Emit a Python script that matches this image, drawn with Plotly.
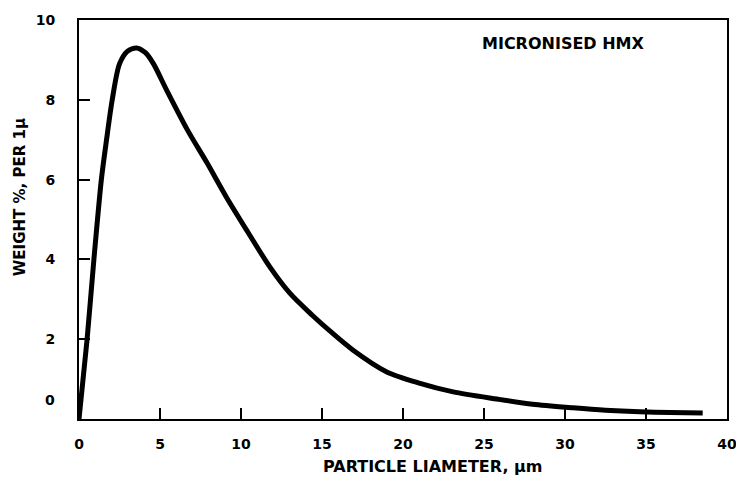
import plotly.graph_objects as go

diameter_um = [0, 0.5, 0.92, 1.38, 1.7, 2.05, 2.5, 3.0, 3.55, 4.1, 4.6, 5.4, 6.7, 7.9, 9.1,
               10.4, 11.8, 13.0, 14.4, 15.5, 16.9, 19.0, 21.0, 23.1, 25.8, 28.0, 30.5, 32.5,
               34.6, 36.5, 38.5]
weight_pct = [0, 2.0, 4.0, 6.0, 7.0, 8.0, 8.9, 9.22, 9.3, 9.18, 8.9, 8.25, 7.24, 6.42, 5.56,
              4.7, 3.8, 3.16, 2.6, 2.2, 1.73, 1.18, 0.9, 0.68, 0.5, 0.37, 0.28, 0.22,
              0.18, 0.16, 0.15]

x_ticks = [0, 5, 10, 15, 20, 25, 30, 35, 40]
y_ticks = [2, 4, 6, 8, 10]

FONT = "DejaVu Sans"
fig = go.Figure()
fig.add_trace(go.Scatter(x=diameter_um, y=weight_pct, mode="lines",
                         line=dict(color="black", width=5, shape="spline", smoothing=0.8),
                         hoverinfo="skip", showlegend=False))

fig.update_layout(
    width=736, height=483,
    margin=dict(l=79, r=9, t=20, b=64),
    paper_bgcolor="white", plot_bgcolor="white",
    font=dict(family=FONT, size=14, color="black", weight="bold"),
    xaxis=dict(range=[0, 40], tickvals=x_ticks, ticks="inside", ticklen=11, tickwidth=2,
               tickcolor="black", showline=True, linecolor="black", linewidth=2, mirror=True,
               showgrid=False, zeroline=False, ticklabelstandoff=11, automargin=False,
               ticklabeloverflow="allow",
               tickfont=dict(family=FONT, size=14, weight="bold")),
    yaxis=dict(range=[0, 10], tickvals=y_ticks, ticks="inside", ticklen=11, tickwidth=2,
               tickcolor="black", showline=True, linecolor="black", linewidth=2, mirror=True,
               showgrid=False, zeroline=False, ticklabelstandoff=19, automargin=False,
               ticklabeloverflow="allow",
               tickfont=dict(family=FONT, size=14, weight="bold")),
    annotations=[
        dict(text="0", xref="paper", yref="y", x=0, y=0, xanchor="right", yanchor="middle",
             xshift=-22, yshift=19, showarrow=False, font=dict(family=FONT, size=14, weight="bold")),
        dict(text="MICRONISED HMX", xref="paper", yref="paper", x=0.748, y=0.942,
             xanchor="center", yanchor="middle", showarrow=False,
             font=dict(family=FONT, size=16, weight="bold")),
        dict(text="PARTICLE LIAMETER, µm", xref="paper", yref="paper", x=0.545, y=-0.12,
             xanchor="center", yanchor="middle", showarrow=False,
             font=dict(family=FONT, size=16, weight="bold")),
        dict(text="WEIGHT %, PER 1µ", xref="paper", yref="paper", x=-0.091, y=0.556,
             xanchor="center", yanchor="middle", showarrow=False, textangle=-90,
             font=dict(family=FONT, size=15, weight="bold")),
    ],
)

fig.write_html("out.html", config={"displayModeBar": False},
               post_script="document.body.style.margin='0px';document.body.style.overflow='hidden';")
